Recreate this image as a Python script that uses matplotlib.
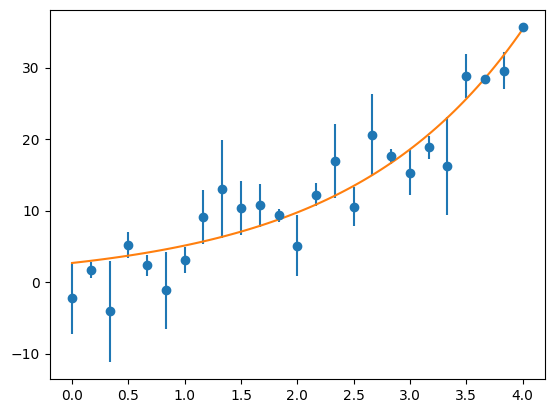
import numpy as np
import matplotlib
matplotlib.use("Agg")
import matplotlib.pyplot as plt

x_values = [0.0, 0.1667, 0.3333, 0.5, 0.6667, 0.8333, 1.0, 1.1667, 1.3333, 1.5,
            1.6667, 1.8333, 2.0, 2.1667, 2.3333, 2.5, 2.6667, 2.8333, 3.0, 3.1667,
            3.3333, 3.5, 3.6667, 3.8333, 4.0]
y_values = [-2.25, 1.7, -4.08, 5.21, 2.39, -1.13, 3.1, 9.15, 13.1, 10.4,
            10.75, 9.38, 5.11, 12.25, 16.94, 10.56, 20.56, 17.6, 15.35, 18.87,
            16.2, 28.87, 28.45, 29.58, 35.63]
y_errors = [4.95, 1.1, 7.1, 1.87, 1.45, 5.4, 1.85, 3.75, 6.85, 3.8,
            3.0, 0.9, 4.3, 1.6, 5.15, 2.75, 5.75, 1.0, 3.1, 1.65,
            6.85, 3.05, 0.2, 2.6, 0.1]

# fitted exponential model y = fit_a * exp(fit_b * x)
fit_a = 2.7
fit_b = 0.643
fit_x_range = (0.0, 4.0)

fig = plt.figure(figsize=(5.54, 4.13), dpi=100)
ax = fig.add_axes([0.0894, 0.0823, 0.9838 - 0.0894, 0.9758 - 0.0823])

ax.errorbar(x_values, y_values, yerr=y_errors, fmt='o', color='C0')
xf = np.linspace(fit_x_range[0], fit_x_range[1], 100)
ax.plot(xf, fit_a * np.exp(fit_b * xf), color='C1')

fig.savefig("out.png", dpi=100)
